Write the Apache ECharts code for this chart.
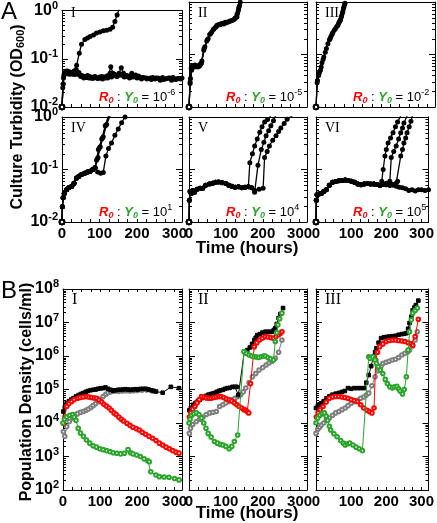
<!DOCTYPE html>
<html><head><meta charset="utf-8">
<script src="https://cdn.jsdelivr.net/npm/echarts@6/dist/echarts.min.js"></script>
<style>html,body{margin:0;padding:0;background:#fff}#c{width:437px;height:523px}</style>
</head><body><div id="c"></div>
<script>
// ---------- Panel A data: culture turbidity (OD600) vs time (hours) ----------
const aI_grow = [[0,0.01],[3,0.03],[7,0.05],[12,0.055],[18,0.052],[25,0.05],[32,0.056],[39,0.073],[46,0.13],[52,0.2],[61,0.25],[68,0.27],[75,0.29],[84,0.31],[92,0.34],[101,0.36],[110,0.38],[119,0.39],[128,0.41],[135,0.45],[141,0.59],[147,0.81],[153,1.1]];
const aI_flat1 = [[0,0.01],[3,0.03],[6,0.05],[10,0.055],[16,0.052],[22,0.05],[30,0.05],[38,0.06],[45,0.052],[52,0.045],[60,0.042],[68,0.045],[76,0.04],[84,0.042],[92,0.04],[100,0.042],[108,0.038],[116,0.04],[124,0.045],[130,0.068],[136,0.05],[144,0.045],[152,0.05],[158,0.065],[164,0.05],[172,0.045],[180,0.04],[190,0.042],[200,0.04],[212,0.038],[225,0.04],[238,0.037],[250,0.04],[262,0.036],[275,0.038],[288,0.04],[300,0.038],[312,0.039]];
const aI_flat2 = [[0,0.01],[2,0.025],[5,0.045],[9,0.05],[14,0.056],[20,0.054],[27,0.048],[35,0.052],[42,0.048],[50,0.043],[58,0.04],[66,0.041],[74,0.043],[82,0.039],[90,0.041],[98,0.04],[106,0.043],[114,0.041],[122,0.04],[132,0.042],[140,0.048],[148,0.044],[156,0.046],[166,0.042],[176,0.044],[186,0.05],[196,0.046],[206,0.042],[218,0.041],[230,0.039],[242,0.041],[256,0.04],[268,0.041],[280,0.039],[292,0.036],[304,0.037],[316,0.038]];
const aI_flat3 = [[0,0.01],[4,0.04],[8,0.052],[13,0.05],[19,0.048],[26,0.052],[34,0.047],[41,0.05],[48,0.046],[56,0.044],[64,0.043],[72,0.04],[80,0.041],[88,0.043],[96,0.039],[104,0.04],[112,0.042],[120,0.044],[128,0.05],[138,0.046],[146,0.043],[154,0.048],[162,0.045],[170,0.043],[182,0.041],[194,0.043],[204,0.044],[214,0.041],[226,0.038],[236,0.04],[248,0.038],[258,0.039],[270,0.037],[284,0.04],[296,0.041],[308,0.039],[320,0.04]];

const aII_1 = [[0,0.01],[3,0.03],[6,0.055],[10,0.06],[15,0.058],[20,0.06],[26,0.062],[32,0.065],[41,0.13],[50,0.19],[59,0.25],[68,0.31],[76,0.36],[85,0.38],[93,0.39],[100,0.4],[110,0.43],[121,0.46],[130,0.52],[134,0.7],[139,0.99],[142,1.1]];
const aII_2 = [[0,0.01],[4,0.035],[8,0.06],[12,0.062],[18,0.06],[24,0.058],[30,0.065],[35,0.075],[43,0.14],[52,0.2],[62,0.27],[72,0.33],[80,0.37],[90,0.39],[98,0.41],[108,0.42],[118,0.45],[126,0.5],[132,0.62],[137,0.85],[141,1.1]];
const aII_3 = [[0,0.01],[3,0.028],[7,0.05],[11,0.058],[16,0.063],[22,0.06],[28,0.06],[34,0.07],[40,0.12],[48,0.18],[56,0.24],[66,0.3],[74,0.34],[84,0.37],[94,0.38],[104,0.41],[114,0.44],[124,0.48],[130,0.58],[135,0.78],[140,1.05]];

const aIII_1 = [[0,0.01],[3,0.029],[7,0.04],[12,0.05],[16,0.07],[21,0.09],[28,0.13],[36,0.19],[40,0.22],[45,0.26],[52,0.31],[59,0.36],[63,0.42],[66,0.46],[69,0.55],[72,0.66],[75,0.8],[78,0.95],[80,1.1]];
const aIII_2 = [[0,0.01],[4,0.032],[9,0.045],[14,0.058],[19,0.08],[25,0.11],[32,0.16],[38,0.2],[43,0.24],[49,0.29],[56,0.34],[61,0.4],[65,0.45],[68,0.52],[71,0.62],[74,0.75],[77,0.9],[80,1.05]];

const aIV_base = [[0,0.01],[1,0.0195],[3,0.029],[6,0.035],[12,0.041],[18,0.045],[26,0.048],[32,0.055],[39,0.069],[45,0.074],[52,0.08],[60,0.085],[68,0.09],[75,0.093],[82,0.1],[88,0.108]];
const aIV_rise1 = [[92,0.15],[97,0.24],[106,0.38],[115,0.68],[124,1.05]];
const aIV_rise2 = [[94,0.16],[100,0.26],[108,0.4],[117,0.7],[126,1.05]];
const aIV_rise3 = [[96,0.17],[102,0.27],[110,0.42],[119,0.72],[128,1.05]];
const aIV_rise4 = [[95,0.09],[103,0.085],[110,0.088],[117,0.18],[124,0.25],[132,0.32],[141,0.45],[150,0.59],[159,0.78],[168,1.0]];

const aV_base = [[0,0.01],[1,0.026],[3,0.038],[6,0.035],[10,0.04],[15,0.037],[22,0.042],[30,0.044],[37,0.044],[45,0.05],[55,0.053],[64,0.055],[72,0.057],[80,0.058],[90,0.056],[100,0.054],[108,0.05],[116,0.048],[125,0.046],[134,0.047],[143,0.045],[152,0.046],[161,0.047]];
const aV_rise1 = [[165,0.135],[172,0.2],[178,0.28],[185,0.38],[192,0.51],[198,0.65],[205,0.8],[213,0.9],[222,1.05]];
const aV_rise2 = [[170,0.045],[178,0.037],[187,0.12],[196,0.24],[203,0.33],[209,0.44],[216,0.55],[222,0.68],[229,0.85],[235,1.05]];
const aV_rise3 = [[170,0.045],[178,0.04],[190,0.042],[201,0.044],[205,0.17],[212,0.22],[218,0.28],[227,0.36],[236,0.44],[243,0.53],[249,0.62],[258,0.75],[266,0.91],[280,1.05]];

const aVI_base = [[0,0.01],[1,0.026],[3,0.033],[8,0.034],[15,0.035],[22,0.038],[29,0.041],[38,0.05],[47,0.057],[56,0.059],[65,0.061],[74,0.062],[83,0.063],[92,0.062],[101,0.06],[110,0.057],[119,0.053],[128,0.051],[137,0.053],[146,0.054],[155,0.053],[164,0.053],[173,0.052],[182,0.05]];
const aVI_flat = [[191,0.052],[200,0.051],[210,0.05],[219,0.05],[228,0.048],[237,0.046],[246,0.045],[255,0.043],[264,0.04],[273,0.041],[282,0.039],[291,0.041],[300,0.041],[310,0.04],[320,0.041]];
const aVI_rise1 = [[187,0.06],[191,0.1],[196,0.18],[200,0.24],[205,0.32],[212,0.4],[219,0.5],[226,0.65],[232,0.8],[241,1.05]];
const aVI_rise2 = [[191,0.052],[200,0.055],[210,0.06],[214,0.17],[221,0.22],[228,0.28],[235,0.38],[241,0.5],[246,0.62],[250,0.77],[259,1.05]];
const aVI_rise3 = [[191,0.052],[200,0.051],[210,0.05],[219,0.052],[228,0.055],[232,0.06],[241,0.18],[246,0.24],[250,0.32],[255,0.4],[259,0.5],[265,0.65],[270,0.83],[274,1.05]];

// ---------- Panel B data: population density (cells/ml) vs time (hours) ----------
const bI_black = [[1,2.2e4],[5,3e4],[10,3.9e4],[16,4.5e4],[22,5e4],[28,5.5e4],[35,6.2e4],[42,6.8e4],[48,7.3e4],[54,7.8e4],[61,8.5e4],[67,9e4],[74,9.5e4],[81,9.8e4],[88,1.0e5],[94,1.05e5],[101,1.08e5],[108,1.1e5],[114,1.15e5],[121,1.05e5],[128,9.8e4],[134,9.2e4],[141,9.5e4],[148,9.8e4],[154,9.8e4],[161,1.0e5],[168,1.02e5],[174,1.0e5],[181,9.8e4],[188,1.0e5],[195,1.02e5],[201,1.0e5],[208,1.04e5],[215,1.05e5],[223,1.05e5],[230,1.0e5],[237,9.5e4],[244,9.1e4],[250,8.7e4],[268,8e4],[290,1.2e5],[312,1.1e5]];
const bI_gray = [[1,5.5e3],[5,4e3],[10,7.8e3],[17,1.1e4],[26,1.4e4],[33,1.7e4],[39,1.9e4],[47,2.1e4],[55,2.2e4],[62,2.4e4],[68,2.6e4],[75,2.9e4],[81,3.3e4],[88,3.8e4],[94,4.4e4],[101,5.2e4],[108,6.2e4],[115,7.2e4],[121,8e4],[128,8.5e4],[135,8.8e4],[142,9e4],[150,8.8e4],[160,9e4],[170,9.2e4],[180,9e4],[190,9.2e4],[200,9.3e4],[212,9.5e4],[225,9.6e4],[240,9e4]];
const bI_red = [[1,9.8e3],[5,1.5e4],[10,3.1e4],[16,3.8e4],[23,4.4e4],[30,5e4],[39,5.5e4],[46,5.8e4],[54,6e4],[63,6.2e4],[70,6e4],[77,5.8e4],[84,5.6e4],[90,5.5e4],[97,4.8e4],[104,4.2e4],[110,3.6e4],[117,3.2e4],[124,2.8e4],[130,2.4e4],[137,2e4],[143,1.8e4],[150,1.5e4],[157,1.3e4],[163,1.15e4],[172,9.8e3],[180,8.5e3],[188,7.5e3],[197,6.8e3],[205,6.2e3],[213,5.3e3],[222,4.6e3],[231,4e3],[241,3.5e3],[250,3e3],[259,2.5e3],[268,2.2e3],[277,1.9e3],[286,1.7e3],[295,1.5e3],[304,1.35e3],[312,1.26e3]];
const bI_green = [[0,1e4],[4,1.3e4],[10,1.5e4],[18,1.7e4],[26,1.8e4],[30,1.5e4],[35,1.2e4],[41,6.9e3],[47,5e3],[55,4e3],[63,3.1e3],[72,2.5e3],[81,2.1e3],[90,1.9e3],[99,1.7e3],[108,1.6e3],[117,1.5e3],[126,1.4e3],[135,1.3e3],[145,1.25e3],[155,1.2e3],[165,1.25e3],[175,1.6e3],[182,1.3e3],[188,1.2e3],[198,1.1e3],[208,1e3],[218,8.5e2],[228,7.5e2],[232,7e2],[236,3.5e2],[250,2.8e2],[259,2.5e2],[272,2.45e2],[285,2.4e2],[300,2.2e2],[312,2e2]];

const bII_black = [[1,2.4e4],[5,2.8e4],[11,3.5e4],[18,4e4],[24,4.5e4],[29,4.9e4],[35,5.5e4],[41,6e4],[47,6.5e4],[53,7e4],[59,7.3e4],[64,7.5e4],[69,7.8e4],[75,8.5e4],[81,9e4],[86,9.5e4],[92,9.8e4],[98,1.05e5],[104,1.1e5],[110,1.12e5],[118,1.2e5],[124,1.2e5],[129,1.2e5],[134,6.9e4],[150,1.35e6],[158,1.5e6],[165,1.8e6],[171,2.3e6],[177,3e6],[181,3.5e6],[185,4.2e6],[192,4.5e6],[199,5e6],[207,5.3e6],[214,5.3e6],[220,5.2e6],[225,5.3e6],[230,6e6],[234,6.8e6],[238,9e6],[243,1.35e7],[248,1.8e7],[255,2.7e7]];
const bII_red = [[1,1.5e4],[5,2e4],[10,2.6e4],[16,3.1e4],[22,4e4],[28,5e4],[34,6.2e4],[41,6e4],[47,5.6e4],[54,5.5e4],[60,5.5e4],[67,5.8e4],[74,6e4],[81,6.2e4],[87,6.2e4],[94,5.8e4],[101,5.3e4],[109,4.9e4],[116,4.5e4],[123,4e4],[130,3.5e4],[136,3.1e4],[143,2.8e4],[149,2.5e4],[154,2.4e4],[158,2.2e4],[162,2e4],[167,1.5e5],[177,1.9e6],[184,2.5e6],[191,3e6],[199,3.4e6],[207,3.8e6],[214,3.7e6],[222,3.5e6],[229,3.4e6],[236,3.8e6],[243,4.3e6],[248,4.8e6],[252,5.3e6]];
const bII_green = [[0,1e4],[3,1.3e4],[7,1.7e4],[13,1.9e4],[20,2e4],[27,1.8e4],[34,1.4e4],[40,1e4],[46,7e3],[52,4.9e3],[60,3.8e3],[69,2.8e3],[77,2.5e3],[85,2.3e3],[92,2.2e3],[100,2e3],[109,1.7e3],[116,2e3],[123,2.8e3],[132,4.4e3],[149,1.35e6],[156,1.2e6],[163,1.07e6],[170,1e6],[177,9.5e5],[183,9.3e5],[189,9.1e5],[196,9.5e5],[202,1e6],[207,1e6],[214,9e5],[221,8.3e5],[229,7.6e5],[234,2.7e6],[238,5e6],[241,8.5e6],[246,1.3e7],[252,1.9e7]];
const bII_gray = [[1,4.9e3],[4,7e3],[10,9e3],[20,1.1e4],[29,1.3e4],[38,1.5e4],[47,1.8e4],[56,2e4],[65,2.1e4],[74,2.2e4],[83,3.1e4],[92,3.5e4],[100,4e4],[109,4.4e4],[118,5e4],[125,5.5e4],[132,6.2e4],[140,7e4],[147,8.5e4],[154,1.1e5],[163,1.6e5],[172,2.4e5],[181,3e5],[190,3.8e5],[200,4.5e5],[209,5.4e5],[217,6.2e5],[225,7e5],[234,8.5e5],[243,1.3e6],[252,3e6]];

const bIII_black = [[0,2.8e4],[5,3.2e4],[10,3.6e4],[15,3.9e4],[22,4.5e4],[30,5.5e4],[38,6.2e4],[47,7e4],[56,7.5e4],[65,7.9e4],[74,8.5e4],[82,9e4],[91,1.1e5],[100,1.05e5],[109,1.1e5],[118,1.1e5],[127,1.1e5],[136,1.1e5],[143,1.6e5],[150,2.7e5],[157,5e5],[163,9.5e5],[168,1.3e6],[172,1.7e6],[178,2.5e6],[185,3.4e6],[193,3.6e6],[200,3.7e6],[208,3.8e6],[217,3.9e6],[226,4e6],[235,4.3e6],[244,4.5e6],[251,4.6e6],[257,4.8e6],[262,6.5e6],[266,9.6e6],[271,1.5e7],[275,2.3e7],[280,2.8e7],[284,3.3e7],[291,4.5e7]];
const bIII_red = [[1,1.5e4],[6,2e4],[12,2.5e4],[20,3.1e4],[29,4.2e4],[38,5.5e4],[47,6e4],[56,6.2e4],[65,6.2e4],[74,6e4],[82,5.8e4],[91,5.5e4],[100,5e4],[109,4.7e4],[118,4.4e4],[127,3.5e4],[136,2.8e4],[145,2.4e4],[152,2.2e4],[159,2e4],[165,2.8e4],[170,7.6e5],[175,1.3e6],[181,1.9e6],[190,2.3e6],[199,2.7e6],[208,2.9e6],[217,3e6],[226,3e6],[235,2.9e6],[244,2.8e6],[253,2.7e6],[262,2.5e6],[270,2.3e6],[275,2.1e6],[282,3.8e6],[291,1.25e7]];
const bIII_green = [[0,1e4],[5,1.4e4],[11,1.7e4],[18,1.9e4],[24,2e4],[29,1.6e4],[33,1.2e4],[38,8e3],[42,6.2e3],[51,4.8e3],[60,3.9e3],[70,3e3],[78,2.5e3],[83,2.2e3],[90,2.4e3],[96,2.5e3],[105,2.2e3],[114,1.9e3],[123,1.7e3],[132,1.5e3],[150,9.5e5],[154,8.5e5],[161,9.5e5],[168,7.6e5],[172,6e5],[177,4.8e5],[183,3.8e5],[190,3e5],[197,2e5],[203,1.5e5],[210,1.2e5],[217,1.1e5],[223,1.2e5],[230,1.25e5],[235,1.05e5],[239,9e4],[246,7.4e4],[251,1e5],[257,2.4e5],[262,1.5e6],[266,5.3e6],[271,1.2e7],[275,1.9e7],[282,2.3e7],[288,2.7e7]];
const bIII_gray = [[0,4.9e3],[5,6.5e3],[10,7.5e3],[15,8.7e3],[22,1e4],[29,1.2e4],[38,1.4e4],[47,1.7e4],[56,2e4],[65,2.2e4],[74,2.5e4],[83,2.8e4],[91,3.3e4],[100,3.9e4],[109,4.3e4],[118,4.8e4],[127,5.5e4],[136,6e4],[143,6.8e4],[150,7.8e4],[159,1.3e5],[168,2.4e5],[177,3.6e5],[185,5e5],[190,6e5],[199,6.5e5],[208,7e5],[217,7.6e5],[226,8e5],[235,9e5],[244,1.07e6],[253,1.2e6],[261,1.35e6],[266,1.5e6],[275,2e6],[282,3e6],[288,5.3e6]];

// Tick labels / annotation texts
const xTickLabels = [0, 100, 200, 300];
const ratioExponents = ['-6', '-5', '-2', '1', '4', '5'];
const romanA = ['I', 'II', 'III', 'IV', 'V', 'VI'];
const romanB = ['I', 'II', 'III'];

// ---------- layout ----------
const FONT = 'Liberation Sans, Arial, Helvetica, sans-serif';
const SERIF = 'Liberation Serif, Times New Roman, serif';
const RED = '#ff0000', GREEN = '#2aa52a', GRAY = '#7f7f7f';

const panels = [
  {box:[62,2,120,105],  ymin:0.01, ymax:1,   xl:false, yl:true,  top:false, kind:'A', lines:[aI_flat1, aI_flat2, aI_flat3, aI_grow]},
  {box:[189,2,118,105], ymin:0.01, ymax:1,   xl:false, yl:false, top:false, kind:'A', lines:[aII_1, aII_2, aII_3]},
  {box:[316,2,119,105], ymin:0.01, ymax:1,   xl:false, yl:false, top:false, kind:'A', lines:[aIII_1, aIII_2]},
  {box:[62,117,120,105],ymin:0.01, ymax:1,   xl:true,  yl:true,  top:false, kind:'A', lines:[aIV_base.concat(aIV_rise1), aIV_base.concat(aIV_rise2), aIV_base.concat(aIV_rise3), aIV_base.concat(aIV_rise4)]},
  {box:[189,117,118,105],ymin:0.01,ymax:1,   xl:true,  yl:false, top:false, kind:'A', lines:[aV_base.concat(aV_rise1), aV_base.concat(aV_rise2), aV_base.concat(aV_rise3)]},
  {box:[316,117,119,105],ymin:0.01,ymax:1,   xl:true,  yl:false, top:false, kind:'A', lines:[aVI_base.concat(aVI_flat), aVI_base.concat(aVI_rise1), aVI_base.concat(aVI_rise2), aVI_base.concat(aVI_rise3)]},
  {box:[63,289,119,201], ymin:1e2, ymax:1e8, xl:true,  yl:true,  top:true, kind:'B', sets:[bI_gray, bI_black, bI_red, bI_green]},
  {box:[189,289,118,201],ymin:1e2, ymax:1e8, xl:true,  yl:false, top:true, kind:'B', sets:[bII_gray, bII_black, bII_red, bII_green]},
  {box:[316,289,119,201],ymin:1e2, ymax:1e8, xl:true,  yl:false, top:true, kind:'B', sets:[bIII_gray, bIII_black, bIII_red, bIII_green]}
];

const grids = [], xAxes = [], yAxes = [], series = [];
const axisLine = {show:true, onZero:false, lineStyle:{color:'#000', width:1}};

panels.forEach((p, i) => {
  const [l, t, w, h] = p.box;
  grids.push({left:l, top:t, width:w, height:h, containLabel:false});
  const xBase = {type:'value', gridIndex:i, min:0, max:320, interval:25,
    axisLine, splitLine:{show:false}};
  xAxes.push(Object.assign({}, xBase, {position:'bottom',
    axisTick:{show:true, inside:true, length:3, lineStyle:{color:'#000'}},
    axisLabel:{show:p.xl, margin:4, color:'#000', fontFamily:FONT, fontWeight:'bold', fontSize:15,
      showMaxLabel:false,
      formatter: v => (xTickLabels.indexOf(v) >= 0 ? String(v) : '')}}));
  xAxes.push(Object.assign({}, xBase, {position:'top',
    axisTick:{show:p.top, inside:true, length:3, lineStyle:{color:'#000'}}, axisLabel:{show:false}}));
  const yBase = {type:'log', logBase:10, gridIndex:i, min:p.ymin, max:p.ymax, axisLine, splitLine:{show:false}};
  yAxes.push(Object.assign({}, yBase, {position:'left',
    axisTick:{show:true, inside:true, length:6, lineStyle:{color:'#000'}},
    axisLabel:{show:p.yl, margin:4, color:'#000', fontFamily:FONT,
      formatter: v => '{b|10}{s|' + Math.round(Math.log10(v)) + '}',
      rich:{b:{fontSize:16, fontWeight:'bold', fontFamily:FONT, color:'#000'},
            s:{fontSize:11, fontWeight:'bold', fontFamily:FONT, color:'#000', verticalAlign:'top', padding:[0,0,10,0]}}}}));
  yAxes.push(Object.assign({}, yBase, {position:'right',
    axisTick:{show:true, inside:true, length:6, lineStyle:{color:'#000'}}, axisLabel:{show:false}}));

  // log minor ticks (2..9 x 10^n) drawn through the y scale
  const mv = [];
  for (let e = Math.round(Math.log10(p.ymin)); e < Math.round(Math.log10(p.ymax)); e++)
    for (let k = 2; k <= 9; k++) mv.push([0, k * Math.pow(10, e)]);
  series.push({type:'custom', xAxisIndex:2*i, yAxisIndex:2*i, silent:true, z:1, data:mv,
    renderItem:(params, api) => {
      const pt = api.coord([0, api.value(1)]);
      const cs = params.coordSys;
      const y = Math.round(pt[1]) + 0.5;
      return {type:'group', children:[
        {type:'line', shape:{x1:cs.x, y1:y, x2:cs.x+3, y2:y}, style:{stroke:'#000', lineWidth:1}},
        {type:'line', shape:{x1:cs.x+cs.width, y1:y, x2:cs.x+cs.width-3, y2:y}, style:{stroke:'#000', lineWidth:1}}
      ]};
    }});

  if (p.kind === 'A') {
    p.lines.forEach(d => {
      const data = d.map((v, j) => j === 0 ? {value:v, symbol:'emptyCircle', symbolSize:4.5} : v);
      series.push({type:'line', xAxisIndex:2*i, yAxisIndex:2*i, data, symbol:'circle', symbolSize:5,
        clip:true, z:3, lineStyle:{color:'#000', width:1.3}, itemStyle:{color:'#000', borderWidth:1}});
    });
  } else {
    const styles = [
      {c:GRAY, sym:'emptyCircle', size:3.6},
      {c:'#000', sym:'rect', size:3.6},
      {c:RED, sym:'emptyCircle', size:3.6},
      {c:GREEN, sym:'emptyCircle', size:3.6}
    ];
    p.sets.forEach((d, k) => {
      const s = styles[k];
      series.push({type:'line', xAxisIndex:2*i, yAxisIndex:2*i, data:d, symbol:s.sym, symbolSize:s.size,
        clip:true, z:3+k, lineStyle:{color:s.c, width:1}, itemStyle:{color:s.c, borderColor:s.c, borderWidth:1}});
    });
  }
});

// ---------- text ----------
const graphics = [];
function txt(x, y, text, style, extra) {
  graphics.push(Object.assign({type:'text', x, y, silent:true, z:100,
    style:Object.assign({text, fill:'#000', fontFamily:FONT}, style)}, extra || {}));
}
txt(9, 12, 'A', {fontSize:24, align:'center', verticalAlign:'middle'});
txt(9, 291, 'B', {fontSize:24, align:'center', verticalAlign:'middle'});
txt(18, 117, 'Culture Turbidity (OD{sub|600})', {fontSize:16, fontWeight:'bold', align:'center', verticalAlign:'middle',
  rich:{sub:{fontSize:11, fontWeight:'bold', fontFamily:FONT, fill:'#000', verticalAlign:'bottom', padding:[6,0,0,0]}}},
  {rotation:Math.PI/2});
txt(27, 392, 'Population Density (cells/ml)', {fontSize:16, fontWeight:'bold', align:'center', verticalAlign:'middle'},
  {rotation:Math.PI/2});
txt(247, 248, 'Time (hours)', {fontSize:17, fontWeight:'bold', align:'center', verticalAlign:'middle'});
txt(247, 513, 'Time (hours)', {fontSize:17, fontWeight:'bold', align:'center', verticalAlign:'middle'});

panels.forEach((p, i) => {
  const [l, t] = p.box;
  if (p.kind === 'A') {
    txt(l + 9, t + 11, romanA[i], {fontSize:14, fontFamily:SERIF, align:'left', verticalAlign:'middle'});
    txt(l + 37, t + 95, '{r|R}{rs|0}{k| : }{g|Y}{gs|0}{k| = 10}{e|' + ratioExponents[i] + '}', {
      fontSize:12, align:'left', verticalAlign:'middle',
      rich:{
        r:{fill:RED, fontSize:13, fontWeight:'bold', fontStyle:'italic', fontFamily:FONT},
        rs:{fill:RED, fontSize:9, fontWeight:'bold', fontStyle:'italic', fontFamily:FONT, padding:[7,0,0,0]},
        g:{fill:GREEN, fontSize:13, fontWeight:'bold', fontStyle:'italic', fontFamily:FONT},
        gs:{fill:GREEN, fontSize:9, fontWeight:'bold', fontStyle:'italic', fontFamily:FONT, padding:[7,0,0,0]},
        k:{fill:'#000', fontSize:13, fontFamily:FONT},
        e:{fill:'#000', fontSize:9, fontFamily:FONT, padding:[0,0,8,0]}
      }});
  } else {
    txt(l + 9, t + 11, romanB[i - 6], {fontSize:16, fontFamily:SERIF, align:'left', verticalAlign:'middle'});
  }
});

const chart = echarts.init(document.getElementById('c'), null, {renderer:'canvas'});
chart.setOption({
  animation:false,
  backgroundColor:'#fff',
  grid:grids, xAxis:xAxes, yAxis:yAxes, series, graphic:graphics
});
</script></body></html>
